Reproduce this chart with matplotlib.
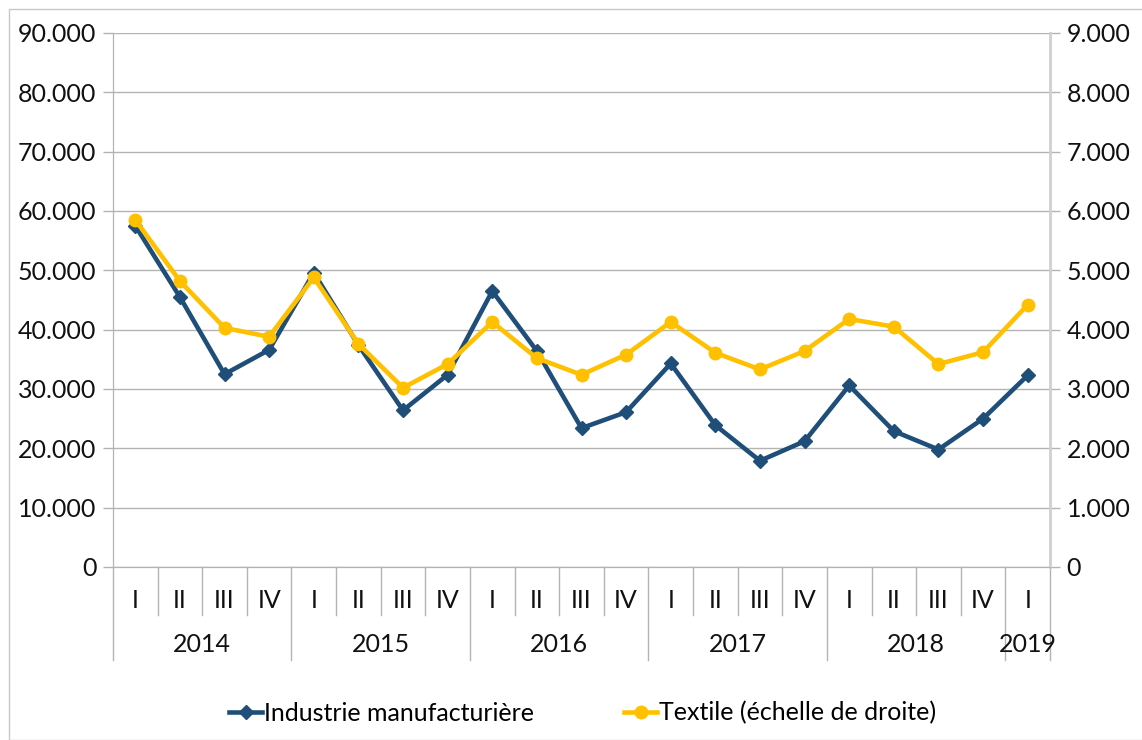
import matplotlib.pyplot as plt
import matplotlib.transforms as mtransforms
from matplotlib.patches import Rectangle
from matplotlib.ticker import FuncFormatter

plt.rcParams['font.family'] = ['Lato', 'DejaVu Sans']

years = ['2014', '2015', '2016', '2017', '2018', '2019']
quarters = ['I', 'II', 'III', 'IV'] * 5 + ['I']
industrie = [57500, 45500, 32500, 36600, 49600, 37400, 26400, 32400, 46500, 36400,
             23400, 26100, 34300, 23900, 17900, 21200, 30600, 22900, 19800, 25000, 32300]
textile = [5850, 4820, 4030, 3880, 4880, 3760, 3020, 3420, 4130, 3520,
           3240, 3580, 4130, 3610, 3330, 3640, 4180, 4050, 3420, 3620, 4420]

blue = '#1f4e79'
yellow = '#ffc000'
grid_c = '#b3b3b3'
fs = 18

fig = plt.figure(figsize=(11.42, 7.40), dpi=100)
fig.patches.append(Rectangle((9 / 1142, 0), 1, 1 - 9 / 740, transform=fig.transFigure,
                             fill=False, edgecolor='#c8c8c8', linewidth=1))
ax = fig.add_axes([113 / 1142, 1 - 567 / 740, (1050 - 113) / 1142, 534 / 740])
ax2 = ax.twinx()

x = list(range(len(quarters)))
ax.plot(x, industrie, color=blue, lw=3.3, marker='D', ms=7, zorder=3,
        label='Industrie manufacturière')
ax2.plot(x, textile, color=yellow, lw=3.3, marker='o', ms=9, zorder=3,
         label='Textile (échelle de droite)')

ax.set_xlim(-0.5, len(quarters) - 0.5)
ax.set_ylim(0, 90000)
ax2.set_ylim(0, 9000)
ax.set_yticks(range(0, 90001, 10000))
ax2.set_yticks(range(0, 9001, 1000))
fmt = FuncFormatter(lambda v, p: '0' if v == 0 else f'{int(v):,}'.replace(',', '.'))
ax.yaxis.set_major_formatter(fmt)
ax2.yaxis.set_major_formatter(fmt)
ax.grid(axis='y', color=grid_c, lw=1)
ax.set_axisbelow(True)
ax.set_xticks([])
for a in (ax, ax2):
    a.tick_params(axis='y', labelsize=fs, colors=grid_c, labelcolor='#111111',
                  length=7, width=1, pad=5)
    for s in a.spines.values():
        s.set_color(grid_c)
    a.spines['top'].set_visible(False)
ax2.spines['right'].set_color('#d0d0d0')
ax2.spines['right'].set_linewidth(2)

trans = mtransforms.blended_transform_factory(ax.transData, ax.transAxes)
for i, q in enumerate(quarters):
    ax.text(i, -0.062, q, transform=trans, ha='center', va='center', fontsize=fs,
            color='#111111')
year_bounds = [-0.5, 3.5, 7.5, 11.5, 15.5, 19.5, 20.5]
for b in range(len(quarters) + 1):
    pos = b - 0.5
    low = -0.174 if pos in year_bounds else -0.09
    ax.plot([pos, pos], [0, low], transform=trans, color=grid_c, lw=1, clip_on=False)
for k, y in enumerate(years):
    mid = (year_bounds[k] + year_bounds[k + 1]) / 2
    ax.text(mid, -0.146, y, transform=trans, ha='center', va='center', fontsize=fs,
            color='#111111')

h1, l1 = ax.get_legend_handles_labels()
h2, l2 = ax2.get_legend_handles_labels()
fig.legend(h1 + h2, l1 + l2, loc='center', bbox_to_anchor=(0.5105, 1 - 713 / 740), ncol=2,
           frameon=False, fontsize=fs, handlelength=1.3, handletextpad=0.1,
           columnspacing=3.6)

fig.savefig('out.png', dpi=100)
